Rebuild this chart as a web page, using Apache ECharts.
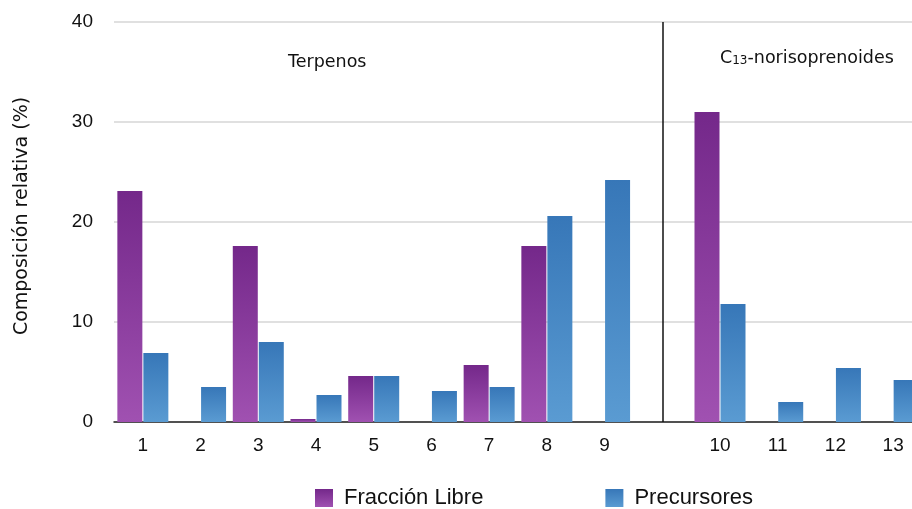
<!DOCTYPE html>
<html>
<head>
<meta charset="utf-8">
<script src="https://cdn.jsdelivr.net/npm/echarts@6/dist/echarts.min.js"></script>
<style>html,body{margin:0;padding:0;background:#fff;}#c{width:912px;height:509px;}</style>
</head>
<body>
<div id="c"></div>
<script>
const categories = ['1','2','3','4','5','6','7','8','9','','10','11','12','13'];
const libre = [23.1, 0, 17.6, 0.3, 4.6, 0, 5.7, 17.6, 0, null, 31.0, 0, 0, 0];
const precursores = [6.9, 3.5, 8.0, 2.7, 4.6, 3.1, 3.5, 20.6, 24.2, null, 11.8, 2.0, 5.4, 4.2];
const yTicks = [0, 10, 20, 30, 40];
const separatorIndex = 9;

const purple = new echarts.graphic.LinearGradient(0, 0, 0, 1, [
  {offset: 0, color: '#74288a'}, {offset: 1, color: '#a051b1'}]);
const blue = new echarts.graphic.LinearGradient(0, 0, 0, 1, [
  {offset: 0, color: '#3777b8'}, {offset: 1, color: '#5a9bd2'}]);

const chart = echarts.init(document.getElementById('c'), null, {renderer: 'canvas'});
chart.setOption({
  animation: false,
  backgroundColor: '#fff',
  grid: {left: 114, top: 22, width: 808, bottom: 87, containLabel: false, outerBoundsMode: 'none'},
  legend: {
    left: 310, top: 482, itemWidth: 18, itemHeight: 18, itemGap: 122, icon: 'rect',
    textStyle: {fontFamily: 'Liberation Sans', fontSize: 22, color: '#111', padding: [0, 0, 0, 6]},
    data: ['Fracción Libre', 'Precursores']
  },
  xAxis: {
    type: 'category', data: categories,
    axisTick: {show: false},
    axisLine: {show: true, lineStyle: {color: '#222', width: 1.5}},
    axisLabel: {fontFamily: 'Liberation Sans', fontSize: 19, color: '#111', margin: 14, interval: 0}
  },
  yAxis: {
    type: 'value', min: yTicks[0], max: yTicks[yTicks.length - 1], interval: 10,
    name: 'Composición relativa (%)', nameLocation: 'middle', nameGap: 82, nameRotate: 90,
    nameTextStyle: {fontFamily: 'DejaVu Sans', fontSize: 19, color: '#111', padding: [0, 0, 0, 12]},
    axisLine: {show: false}, axisTick: {show: false},
    axisLabel: {fontFamily: 'Liberation Sans', fontSize: 19, color: '#111', margin: 21},
    splitLine: {lineStyle: {color: '#d6d6d6', width: 1.5}}
  },
  graphic: [
    {type: 'text', left: 288, top: 53, style: {text: 'Terpenos', font: '17.5px "DejaVu Sans"', fill: '#111'}},
    {type: 'text', left: 720, top: 49, style: {
      text: '{a|C}{b|13}{a|-norisoprenoides}',
      rich: {
        a: {fontFamily: 'DejaVu Sans', fontSize: 17.5, fill: '#111', color: '#111'},
        b: {fontFamily: 'DejaVu Sans', fontSize: 12, color: '#111', fill: '#111', padding: [6, 0, 0, 0]}
      }
    }}
  ],
  series: [
    {
      name: 'Fracción Libre', type: 'bar', data: libre, barWidth: 25, barGap: '4%',
      itemStyle: {color: purple}
    },
    {
      name: 'Precursores', type: 'bar', data: precursores, barWidth: 25, barGap: '4%',
      itemStyle: {color: blue}
    },
    {
      name: 'separador', type: 'line', data: [], silent: true,
      markLine: {
        silent: true, symbol: 'none', label: {show: false},
        lineStyle: {color: '#111', width: 1.5, type: 'solid'},
        data: [{xAxis: separatorIndex}]
      }
    }
  ]
});
</script>
</body>
</html>
